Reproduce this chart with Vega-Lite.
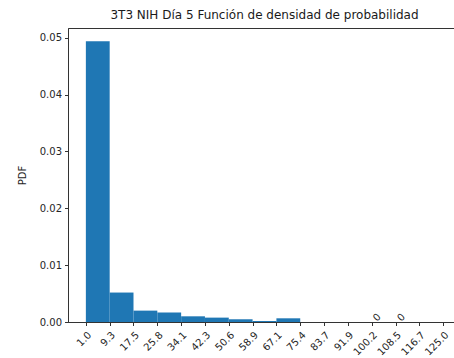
{
  "$schema": "https://vega.github.io/schema/vega-lite/v6.json",
  "autosize": "none",
  "width": 393,
  "height": 294,
  "padding": {"left": 68, "top": 28, "right": 0, "bottom": 36},
  "background": "white",
  "title": {
    "text": "3T3 NIH Día 5 Función de densidad de probabilidad",
    "font": "DejaVu Sans",
    "fontSize": 12,
    "fontWeight": "normal",
    "color": "#1a1a1a",
    "offset": 6
  },
  "config": {
    "view": {"stroke": "#333333", "strokeWidth": 1},
    "axis": {
      "labelFont": "DejaVu Sans",
      "labelFontSize": 10,
      "labelColor": "#262626",
      "titleFont": "DejaVu Sans",
      "titleFontSize": 10,
      "titleFontWeight": "normal",
      "titleColor": "#262626",
      "domainColor": "#333333",
      "tickColor": "#333333",
      "tickSize": 3.5,
      "labelPadding": 3,
      "grid": false
    }
  },
  "datasets": {
    "bins": [
      {"bin_start": 1.0, "bin_end": 9.267, "pdf": 0.04935},
      {"bin_start": 9.267, "bin_end": 17.533, "pdf": 0.00518},
      {"bin_start": 17.533, "bin_end": 25.8, "pdf": 0.0020},
      {"bin_start": 25.8, "bin_end": 34.067, "pdf": 0.00165},
      {"bin_start": 34.067, "bin_end": 42.333, "pdf": 0.0010},
      {"bin_start": 42.333, "bin_end": 50.6, "pdf": 0.00077},
      {"bin_start": 50.6, "bin_end": 58.867, "pdf": 0.00048},
      {"bin_start": 58.867, "bin_end": 67.133, "pdf": 0.00018},
      {"bin_start": 67.133, "bin_end": 75.4, "pdf": 0.00065},
      {"bin_start": 75.4, "bin_end": 83.667, "pdf": 0},
      {"bin_start": 83.667, "bin_end": 91.933, "pdf": 0},
      {"bin_start": 91.933, "bin_end": 100.2, "pdf": 0},
      {"bin_start": 100.2, "bin_end": 108.467, "pdf": 0},
      {"bin_start": 108.467, "bin_end": 116.733, "pdf": 0},
      {"bin_start": 116.733, "bin_end": 125.0, "pdf": 0}
    ],
    "notes": [
      {"x": 102.1, "pdf": 0.00075, "label": "0"},
      {"x": 110.5, "pdf": 0.00075, "label": "0"}
    ]
  },
  "layer": [
    {
      "data": {"name": "bins"},
      "mark": {"type": "rect", "color": "#1f77b4"},
      "encoding": {
        "x": {
          "field": "bin_start",
          "type": "quantitative",
          "scale": {"domain": [-5.2, 131.2], "nice": false, "zero": false},
          "axis": {
            "title": null,
            "values": [1.0, 9.267, 17.533, 25.8, 34.067, 42.333, 50.6, 58.867, 67.133, 75.4, 83.667, 91.933, 100.2, 108.467, 116.733, 125.0],
            "format": ".1f",
            "labelAngle": -45,
            "labelAlign": "right",
            "labelBaseline": "top",
            "labelPadding": 4,
            "labelOverlap": false,
            "labelFlush": false
          }
        },
        "x2": {"field": "bin_end"},
        "y": {
          "field": "pdf",
          "type": "quantitative",
          "scale": {"domain": [0, 0.0517], "nice": false},
          "axis": {
            "title": "PDF",
            "values": [0, 0.01, 0.02, 0.03, 0.04, 0.05],
            "format": ".2f",
            "titlePadding": 12
          }
        },
        "y2": {"datum": 0}
      }
    },
    {
      "data": {"name": "notes"},
      "mark": {
        "type": "text",
        "font": "DejaVu Sans",
        "fontSize": 10,
        "color": "#262626",
        "angle": 315,
        "align": "center",
        "baseline": "middle"
      },
      "encoding": {
        "x": {
          "field": "x",
          "type": "quantitative",
          "axis": {
            "title": null,
            "values": [1.0, 9.267, 17.533, 25.8, 34.067, 42.333, 50.6, 58.867, 67.133, 75.4, 83.667, 91.933, 100.2, 108.467, 116.733, 125.0],
            "format": ".1f",
            "labelAngle": -45,
            "labelAlign": "right",
            "labelBaseline": "top",
            "labelPadding": 4,
            "labelOverlap": false,
            "labelFlush": false
          }
        },
        "y": {"field": "pdf", "type": "quantitative"},
        "text": {"field": "label"}
      }
    }
  ]
}
